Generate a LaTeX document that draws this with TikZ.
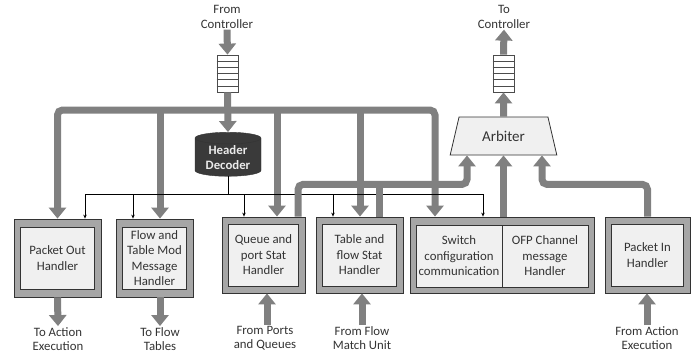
\documentclass[tikz,border=0pt]{standalone}
\usepackage{fontspec}
\setmainfont{Carlito}
\usetikzlibrary{positioning,shapes,calc,arrows.meta}
\definecolor{pipe}{HTML}{808080}
\definecolor{framegray}{HTML}{A6A6A6}
\definecolor{boxgray}{HTML}{F0F0F0}
\definecolor{darkdec}{HTML}{3A3A3A}
\definecolor{ink}{HTML}{333333}

\begin{document}
\begin{tikzpicture}[x=1pt,y=-1pt,
    font=\fontsize{12.8}{15.5}\selectfont, text=ink,
    fat/.style={line width=7pt, draw=pipe, -{Triangle[width=17pt,length=11pt]}},
    pipeline/.style={line width=7pt, draw=pipe},
    thinarr/.style={line width=0.7pt, -{Stealth[length=4pt,width=3.5pt]}},
    outer/.style={draw=black!80, line width=0.8pt, fill=framegray},
    inner/.style={draw=black!80, line width=0.8pt, fill=boxgray, align=center, inner sep=1pt},
    queue/.style={draw=black!70, line width=0.8pt, fill=white, minimum width=21pt, minimum height=37pt},
    lbl/.style={align=center, font=\fontsize{12.8}{14.5}\selectfont, inner sep=1pt}]
    \useasboundingbox (0,0) rectangle (697,356);

    % Colas hacia y desde el controlador
    \node[lbl] (fromctl) at (227,17) {From\\Controller};
    \node[queue] (qin) at (227.5,73.5) {};
    \node[lbl] (toctl) at (504,17) {To\\Controller};
    \node[queue] (qout) at (503.5,73.5) {};
    \foreach \q in {qin,qout}
        \foreach \k in {1,...,5}
            \draw[black!70, line width=0.8pt] ($(\q.north west)!\k/6!(\q.south west)$) -- ($(\q.north east)!\k/6!(\q.south east)$);

    % Decodificador y arbitro
    \node[cylinder, shape border rotate=90, aspect=0.25, draw=black!80, fill=darkdec,
          minimum width=66pt, minimum height=44pt, text=white!92!black, align=center, inner sep=1pt,
          font=\fontsize{12.8}{15}\selectfont\bfseries]
          (decoder) at (228,158) {Header\\Decoder};
    \node[trapezium, trapezium stretches=true, trapezium left angle=74, trapezium right angle=74,
          draw=black!80, line width=0.8pt, fill=boxgray, minimum width=107pt, minimum height=38pt,
          font=\fontsize{15}{17}\selectfont]
          (arb) at (503.5,136) {Arbiter};

    % Bloques de manejadores
    \node[outer, minimum width=87pt, minimum height=78pt] (pout-f) at (57.5,258) {};
    \node[inner, minimum width=74pt, minimum height=62pt] (pout) at (pout-f) {Packet Out\\Handler};
    \node[outer, minimum width=77pt, minimum height=78pt] (ftmod-f) at (154.5,258) {};
    \node[inner, minimum width=64pt, minimum height=62pt] (ftmod) at (ftmod-f) {Flow and\\Table Mod\\Message\\Handler};
    \node[outer, minimum width=83pt, minimum height=76pt] (qstat-f) at (263.5,255) {};
    \node[inner, minimum width=70pt, minimum height=62pt] (qstat) at (qstat-f) {Queue and\\port Stat\\Handler};
    \node[outer, minimum width=87pt, minimum height=76pt] (tstat-f) at (359.5,255) {};
    \node[inner, minimum width=74pt, minimum height=62pt] (tstat) at (tstat-f) {Table and\\flow Stat\\Handler};
    \node[outer, minimum width=184pt, minimum height=76pt] (sw-f) at (502,255) {};
    \node[inner, minimum width=86pt, minimum height=62pt] (swcfg) at (459,256) {Switch\\configuration\\communication};
    \node[inner, minimum width=86pt, minimum height=62pt] (ofp) at (545,256) {OFP Channel\\message\\Handler};
    \node[outer, minimum width=85pt, minimum height=76pt] (pin-f) at (647.5,255) {};
    \node[inner, minimum width=72pt, minimum height=62pt] (pin) at (pin-f) {Packet In\\Handler};

    % Etiquetas inferiores
    \node[lbl] (toact) at (58,339) {To Action\\Execution};
    \node[lbl] (toflow) at (160,339) {To Flow\\Tables};
    \node[lbl] (fromports) at (265,338) {From Ports\\and Queues};
    \node[lbl] (fromflow) at (362,338) {From Flow\\Match Unit};
    \node[lbl] (fromact) at (647,338) {From Action\\Execution};

    % Bus de mensajes del controlador
    \coordinate (bus) at (227,110);
    \draw[fat] (fromctl.south) -- (qin.north);
    \draw[fat] (qin.south) -- (decoder.north);
    \draw[fat, rounded corners=5pt] (bus) -| (pout-f.north);
    \draw[fat, rounded corners=5pt] (bus) -| ($(sw-f.north)+(-67,0)$);
    \foreach \n/\dx in {ftmod-f/5.5, qstat-f/13.5, tstat-f/0.5}{
        \path ($(\n.north)+(\dx,0)$) coordinate (drop);
        \draw[fat] (bus -| drop) -- (drop);
    }

    % Salidas del decodificador
    \coordinate (tl) at (85,194);
    \coordinate (tr) at (483,194);
    \draw[line width=0.7pt] (decoder.south) -- (decoder.south |- tl);
    \draw[line width=0.7pt] (tl) -- (tr);
    \foreach \n/\dx in {pout-f/27.5, ftmod-f/-21.5, qstat-f/-19.5, tstat-f/-26.5, sw-f/-19}{
        \path ($(\n.north)+(\dx,0)$) coordinate (d);
        \draw[thinarr] (tl -| d) -- (d);
    }

    % Hacia el arbitro
    \draw[fat, rounded corners=5pt] ($(qstat-f.north)+(34.5,0)$) |- ($(arb.south)+(-36.5,29)$) -- ($(arb.south)+(-36.5,0)$);
    \draw[pipeline] ($(tstat-f.north)+(19.5,0)$) -- ($(tstat-f.north)+(19.5,-33)$);
    \draw[fat] (sw-f.north -| arb.south) -- (arb.south);
    \draw[fat, rounded corners=5pt] (pin-f.north) |- ($(arb.south)+(38.5,29)$) -- ($(arb.south)+(38.5,0)$);
    \draw[fat] (arb.north) -- (qout.south);
    \draw[fat] (qout.north) -- (toctl.south);

    % Entradas y salidas inferiores
    \draw[fat] (pout-f.south) -- (toact.north);
    \draw[fat] (ftmod-f.south -| toflow.north) -- (toflow.north);
    \draw[fat] ($(fromports.north)+(2,0)$) -- ($(fromports.north |- qstat-f.south)+(2,0)$);
    \draw[fat] (fromflow.north) -- (fromflow.north |- tstat-f.south);
    \draw[fat] (fromact.north) -- (fromact.north |- pin-f.south);
\end{tikzpicture}
\end{document}
